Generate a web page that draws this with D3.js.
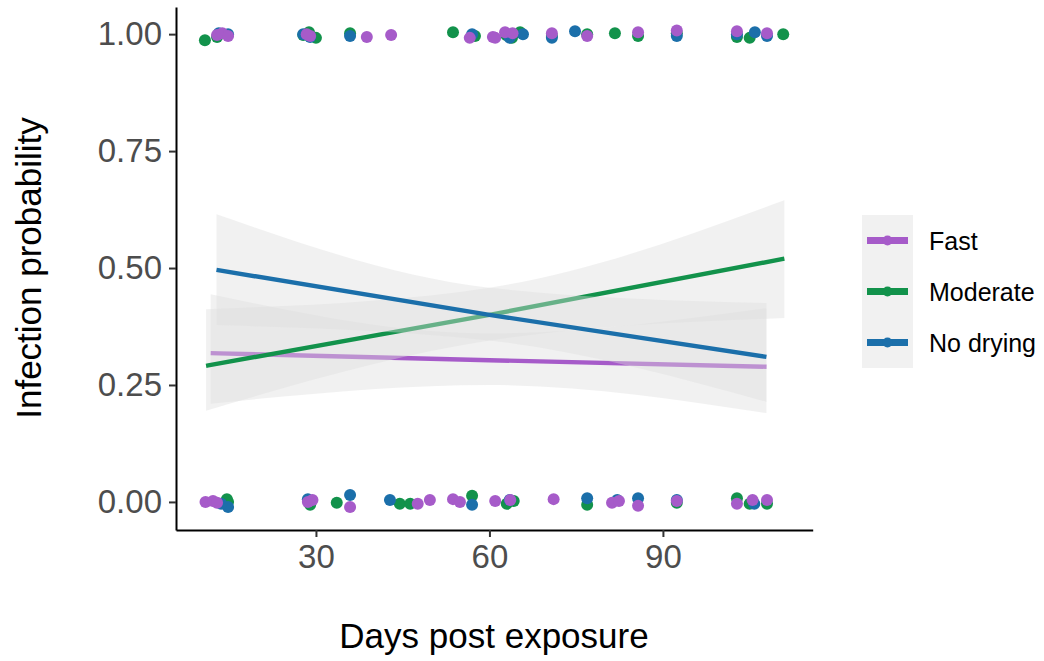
<!DOCTYPE html>
<html>
<head>
<meta charset="utf-8">
<script src="https://cdn.jsdelivr.net/npm/d3@7"></script>
<style>
  html, body { margin: 0; padding: 0; background: #ffffff; }
  svg text { font-family: "Liberation Sans", Arial, Helvetica, sans-serif; }
</style>
</head>
<body>
<svg id="chart" width="1044" height="661"></svg>
<script>
// Treatment groups and their colours
const groups = ["Fast", "Moderate", "No drying"];
const groupColors = ["#a65bc9", "#12924b", "#1b6faa"];

// Axis ticks
const xTicks = [30, 60, 90];
const yTicks = [0, 0.25, 0.5, 0.75, 1];
const yTickLabels = ["0.00", "0.25", "0.50", "0.75", "1.00"];

// Observed infection status (jittered), [days post exposure, infected]
const fastPoints = [
  [12.9, 0.998], [13.8, 1.002], [14.8, 0.996], [29.0, 0.996], [28.4, 1.000],
  [38.8, 0.994], [43.0, 0.998], [56.6, 0.992], [60.6, 0.994], [61.0, 0.992],
  [62.7, 1.004], [64.0, 1.002], [70.8, 1.002], [76.9, 0.996], [85.7, 1.004],
  [92.4, 1.008], [102.8, 1.006], [108.0, 1.002],
  [10.9, 0.000], [12.2, 0.002], [12.9, -0.002], [28.6, 0.000], [29.4, 0.004],
  [35.9, -0.011], [47.6, -0.004], [49.7, 0.004], [53.7, 0.006], [54.9, 0.000],
  [61.0, 0.002], [63.6, 0.004], [71.1, 0.006], [81.2, -0.002], [82.4, 0.002],
  [85.7, -0.008], [92.4, 0.002], [102.8, -0.004], [105.5, 0.004], [108.0, 0.004]
];
const moderatePoints = [
  [10.8, 0.987], [12.9, 0.994], [27.8, 0.998], [28.8, 1.004], [30.0, 0.992],
  [35.9, 1.002], [53.7, 1.004], [57.5, 0.996], [63.9, 0.992], [62.9, 0.998],
  [65.3, 1.004], [70.8, 0.996], [76.9, 1.000], [81.7, 1.002], [85.7, 0.996],
  [92.4, 1.002], [102.8, 0.994], [105.0, 0.992], [110.8, 1.000],
  [14.8, 0.000], [14.6, 0.006], [29.0, -0.006], [33.6, -0.002], [44.5, -0.004],
  [46.3, -0.004], [57.0, 0.013], [63.0, -0.004], [64.2, 0.002], [76.9, -0.006],
  [92.4, -0.002], [102.8, 0.008], [105.0, -0.004], [108.0, -0.004]
];
const noDryingPoints = [
  [13.2, 1.002], [14.8, 1.000], [27.8, 1.000], [29.0, 0.994], [35.9, 0.996],
  [57.0, 1.000], [63.5, 0.992], [65.8, 1.000], [70.8, 0.992], [74.8, 1.006],
  [92.4, 0.996], [102.8, 1.000], [105.9, 1.004], [108.0, 0.996],
  [14.8, -0.011], [13.6, -0.004], [28.6, 0.006], [35.9, 0.015], [42.8, 0.004],
  [57.0, -0.006], [63.5, 0.004], [76.9, 0.008], [82.1, 0.004], [85.7, 0.008],
  [92.4, 0.004], [105.8, -0.004]
];

// Fitted logistic trend per group: [day, fitted probability]
const fastFit = [[11.8, 0.318], [60, 0.303], [107.9, 0.289]];
const moderateFit = [[11.0, 0.291], [60, 0.400], [111.0, 0.520]];
const noDryingFit = [[12.8, 0.496], [60, 0.400], [107.9, 0.310]];

// Confidence band per group: [day, lower, upper]
const fastBand = [[11.8, 0.210, 0.444], [60, 0.250, 0.360], [107.9, 0.190, 0.414]];
const moderateBand = [[11.0, 0.195, 0.412], [60, 0.345, 0.458], [111.0, 0.393, 0.645]];
const noDryingBand = [[12.8, 0.378, 0.615], [60, 0.345, 0.458], [107.9, 0.214, 0.425]];

const pointSets = [fastPoints, moderatePoints, noDryingPoints];
const fitSets = [fastFit, moderateFit, noDryingFit];
const bandSets = [fastBand, moderateBand, noDryingBand];

const svg = d3.select("#chart");

const x = d3.scaleLinear().domain([5.8, 115.9]).range([176, 812.7]);
const y = d3.scaleLinear().domain([-0.06, 1.058]).range([530, 7]);

const bandFill = "#dedede";
const bandOpacity = 0.42;

// Jittered observations (drawn beneath the trends)
const pointOrder = [1, 2, 0];
pointOrder.forEach(gi => {
  svg.append("g")
    .selectAll("circle")
    .data(pointSets[gi])
    .join("circle")
    .attr("cx", d => x(d[0]))
    .attr("cy", d => y(d[1]))
    .attr("r", 6)
    .attr("fill", groupColors[gi]);
});

// Confidence band then trend line, one group after another
const area = d3.area()
  .x(d => x(d[0]))
  .y0(d => y(d[1]))
  .y1(d => y(d[2]))
  .curve(d3.curveMonotoneX);
const line = d3.line()
  .x(d => x(d[0]))
  .y(d => y(d[1]))
  .curve(d3.curveMonotoneX);

groups.forEach((g, gi) => {
  svg.append("path")
    .datum(bandSets[gi])
    .attr("d", area)
    .attr("fill", bandFill)
    .attr("fill-opacity", bandOpacity);
  svg.append("path")
    .datum(fitSets[gi])
    .attr("d", line)
    .attr("fill", "none")
    .attr("stroke", groupColors[gi])
    .attr("stroke-width", 4.4);
});

// Axes
const yAxis = svg.append("g")
  .attr("transform", `translate(${x.range()[0]},0)`)
  .call(d3.axisLeft(y).tickValues(yTicks).tickFormat((d, i) => yTickLabels[i])
    .tickSize(7).tickSizeOuter(0).tickPadding(7));
const xAxis = svg.append("g")
  .attr("transform", `translate(0,${y.range()[0]})`)
  .call(d3.axisBottom(x).tickValues(xTicks).tickFormat(d3.format("d"))
    .tickSize(7).tickSizeOuter(0).tickPadding(8));

[xAxis, yAxis].forEach(a => {
  a.select(".domain").attr("stroke", "#000").attr("stroke-width", 2);
  a.selectAll(".tick line").attr("stroke", "#333").attr("stroke-width", 2);
  a.selectAll(".tick text").attr("fill", "#4d4d4d").style("font-size", "33px")
    .style("font-family", "'Liberation Sans', Arial, sans-serif");
});

// Axis titles
svg.append("text")
  .attr("x", 494)
  .attr("y", 648)
  .attr("text-anchor", "middle")
  .style("font-size", "35px")
  .attr("fill", "#000")
  .text("Days post exposure");

svg.append("text")
  .attr("transform", "translate(41,268) rotate(-90)")
  .attr("text-anchor", "middle")
  .style("font-size", "35px")
  .attr("fill", "#000")
  .text("Infection probability");

// Legend
const legend = svg.append("g").attr("transform", "translate(862,215)");
const keyH = 51;
legend.append("rect")
  .attr("x", 0).attr("y", 0)
  .attr("width", 51).attr("height", keyH * groups.length)
  .attr("fill", bandFill).attr("fill-opacity", bandOpacity);
groups.forEach((g, gi) => {
  const cy = keyH * gi + keyH / 2;
  legend.append("line")
    .attr("x1", 5).attr("x2", 46)
    .attr("y1", cy).attr("y2", cy)
    .attr("stroke", groupColors[gi]).attr("stroke-width", 7);
  legend.append("circle")
    .attr("cx", 25.5).attr("cy", cy).attr("r", 5)
    .attr("fill", groupColors[gi]);
  legend.append("text")
    .attr("x", 67).attr("y", cy)
    .attr("dy", "0.36em")
    .style("font-size", "25px")
    .attr("fill", "#000")
    .text(g);
});
</script>
</body>
</html>
